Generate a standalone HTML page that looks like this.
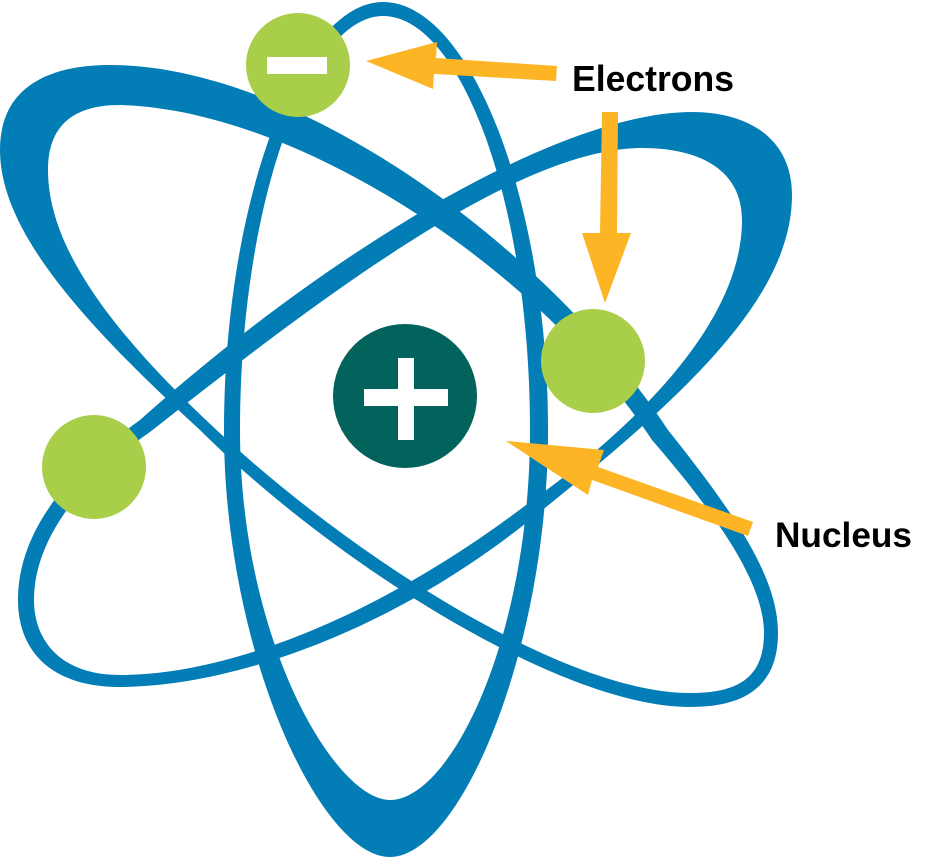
<!DOCTYPE html>
<html><head><meta charset="utf-8"><style>html,body{margin:0;padding:0;background:#fff}svg{display:block}</style></head>
<body>
<svg width="951" height="857" viewBox="0 0 951 857" xmlns="http://www.w3.org/2000/svg">
<g fill="#037DB5" fill-rule="evenodd">
<!-- vertical orbit -->
<path d="M383,2 C470,2 548,200 548,430 C548,650 460,857 390,857 C320,857 224,650 224,430 C224,200 300,2 383,2 Z
M383,16 C460,16 530,200 530,430 C530,640 450,800 390,800 C335,800 240,640 240,430 C240,200 310,16 383,16 Z"/>
<!-- orbit A: top-left thick to bottom-right -->
<path d="M0,150 C0,80 60,65 110,65 C300,65 550,250 668,430 C740,520 778,580 778,633 C778,690 740,707 690,707 C560,707 330,560 200,430 C80,320 0,230 0,150 Z
M48,170 C48,120 80,105 120,105 C300,110 540,270 652,440 C730,530 764,590 764,633 C764,680 735,693 690,693 C560,693 340,548 208,422 C100,320 48,240 48,170 Z"/>
<!-- orbit B: top-right thick to bottom-left -->
<path d="M692,112 C750,112 792,140 792,195 C792,300 680,400 530,520 C380,640 220,687 120,687 C50,687 18,650 18,600 C18,530 70,470 140,420 C330,250 560,112 692,112 Z
M642,148 C700,148 742,170 742,220 C742,310 660,410 522,508 C380,615 230,675 120,675 C60,675 34,640 34,600 C34,540 80,480 150,432 C330,290 520,148 642,148 Z"/>
</g>
<!-- electrons -->
<circle cx="298" cy="65" r="52" fill="#A8CE4A"/>
<rect x="267" y="57" width="60" height="17" fill="#fff"/>
<circle cx="593" cy="361" r="52" fill="#A8CE4A"/>
<circle cx="94" cy="467" r="52" fill="#A8CE4A"/>
<!-- nucleus -->
<circle cx="405" cy="396" r="72" fill="#02625C"/>
<rect x="398" y="358" width="16" height="82" fill="#fff"/>
<rect x="364" y="389" width="84" height="17" fill="#fff"/>
<!-- arrows -->
<g fill="#FDB525">
<polygon points="366,61 437,42 436,58 557,66 556,81 434,74 433,89"/>
<polygon points="602,112 618,112 617,233 631,233 605,303 582,233 600,233"/>
<polygon points="506,441 604,450 598,467 753,522 748,536 592,480 588,495"/>
</g>
<text x="572" y="91" font-family="'Liberation Sans', sans-serif" font-weight="bold" font-size="36" textLength="162" lengthAdjust="spacingAndGlyphs" fill="#000">Electrons</text>
<text x="775" y="547" font-family="'Liberation Sans', sans-serif" font-weight="bold" font-size="35" textLength="137" lengthAdjust="spacingAndGlyphs" fill="#000">Nucleus</text>
</svg>
</body></html>
